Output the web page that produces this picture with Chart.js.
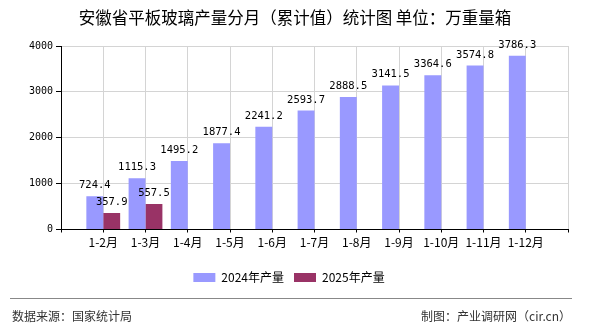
<!DOCTYPE html>
<html>
<head>
<meta charset="utf-8">
<script src="https://cdn.jsdelivr.net/npm/chart.js@4/dist/chart.umd.min.js"></script>
<style>
html, body { margin: 0; padding: 0; background: #fff; }
</style>
</head>
<body>
<canvas id="glassChart" width="590" height="330"></canvas>
<script>
// 安徽省平板玻璃产量（累计值），万重量箱
const months = ['1-2月', '1-3月', '1-4月', '1-5月', '1-6月', '1-7月', '1-8月', '1-9月', '1-10月', '1-11月', '1-12月'];
const output2024 = [724.4, 1115.3, 1495.2, 1877.4, 2241.2, 2593.7, 2888.5, 3141.5, 3364.6, 3574.8, 3786.3];
const output2025 = [357.9, 557.5];
const yTicks = [0, 1000, 2000, 3000, 4000];

// empty slot at each end so the months sit on the grid lines
const labels = [''].concat(months, ['']);
function pad(arr) {
    const out = [null].concat(arr);
    while (out.length < labels.length) out.push(null);
    return out;
}

const cjk = '"Noto Sans CJK SC", sans-serif';
const mono = '"DejaVu Sans Mono", monospace';

const extras = {
    id: 'extras',
    afterDatasetsDraw(chart) {
        const ctx = chart.ctx;
        ctx.save();
        ctx.font = '10.5px ' + mono;
        ctx.fillStyle = '#000';
        ctx.textAlign = 'center';
        ctx.textBaseline = 'alphabetic';
        chart.data.datasets.forEach((ds, i) => {
            chart.getDatasetMeta(i).data.forEach((bar, j) => {
                const v = ds.data[j];
                if (v == null) return;
                ctx.fillText(v.toFixed(1), bar.x, bar.y - 8);
            });
        });
        ctx.restore();
    },
    afterDraw(chart) {
        const ctx = chart.ctx;
        ctx.save();
        // title
        ctx.fillStyle = '#000';
        ctx.font = '16.5px ' + cjk;
        ctx.textAlign = 'center';
        ctx.textBaseline = 'middle';
        ctx.fillText('安徽省平板玻璃产量分月（累计值）统计图 单位：万重量箱', 295, 18);
        // footer
        ctx.strokeStyle = '#888';
        ctx.lineWidth = 1;
        ctx.beginPath();
        ctx.moveTo(10, 298.5);
        ctx.lineTo(572, 298.5);
        ctx.stroke();
        ctx.fillStyle = '#333';
        ctx.font = '12px ' + cjk;
        ctx.textAlign = 'left';
        ctx.fillText('数据来源：国家统计局', 12, 316);
        ctx.textAlign = 'right';
        ctx.fillText('制图：产业调研网（cir.cn）', 571, 316);
        ctx.restore();
    }
};

const ctx = document.getElementById('glassChart').getContext('2d');
const glassChart = new Chart(ctx, {
    type: 'bar',
    data: {
        labels: labels,
        datasets: [{
            label: '2024年产量',
            data: pad(output2024),
            backgroundColor: '#9999ff'
        }, {
            label: '2025年产量',
            data: pad(output2025),
            backgroundColor: '#993366'
        }]
    },
    options: {
        responsive: false,
        animation: false,
        devicePixelRatio: 1,
        categoryPercentage: 0.8,
        barPercentage: 1.0,
        layout: {
            padding: { left: 10, right: 22, top: 46, bottom: 36.5 }
        },
        plugins: {
            title: { display: false },
            tooltip: { enabled: false },
            legend: {
                position: 'bottom',
                labels: {
                    boxWidth: 22,
                    boxHeight: 9,
                    padding: 10,
                    color: '#000',
                    font: { family: cjk, size: 12 }
                }
            }
        },
        scales: {
            x: {
                offset: false,
                grid: {
                    offset: false,
                    color: '#d4d4d4',
                    tickColor: '#000',
                    tickLength: 3
                },
                border: { color: '#000' },
                ticks: {
                    autoSkip: false,
                    maxRotation: 0,
                    padding: 3,
                    color: '#000',
                    font: { family: cjk, size: 12 }
                },
                afterFit(scale) { scale.height = 32; }
            },
            y: {
                min: 0,
                max: yTicks[yTicks.length - 1],
                afterBuildTicks(scale) {
                    scale.ticks = yTicks.map(v => ({ value: v }));
                },
                grid: {
                    color: '#d4d4d4',
                    tickColor: '#000',
                    tickLength: 5
                },
                border: { color: '#000' },
                ticks: {
                    padding: 3,
                    color: '#000',
                    font: { family: mono, size: 10 },
                    callback: v => String(v)
                },
                afterFit(scale) { scale.width = 51; }
            }
        }
    },
    plugins: [extras]
});
</script>
</body>
</html>
